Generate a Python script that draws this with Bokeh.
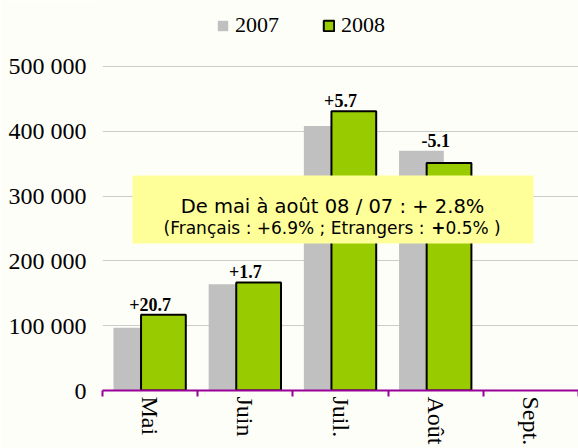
from bokeh.plotting import figure
from bokeh.models import (ColumnDataSource, FixedTicker, Range1d, Legend, LegendItem,
                          BoxAnnotation, Label)
from bokeh.core.properties import value
from bokeh.embed import file_html
from bokeh.resources import INLINE

# ---- data ----
months = ["Mai", "Juin", "Juil.", "Août", "Sept."]
v2007 = [97000, 164000, 408000, 370000]
v2008 = [117000, 166800, 431000, 351000]
changes = ["+20.7", "+1.7", "+5.7", "-5.1"]
y_ticks = [0, 100000, 200000, 300000, 400000, 500000]
y_tick_labels = ["0", "100 000", "200 000", "300 000", "400 000", "500 000"]
series_names = ["2007", "2008"]
note_line1 = "De mai à août 08 / 07 : + 2.8%"
note_line2_a = "(Français : +6.9% ; Etrangers : "
note_line2_b = "+"
note_line2_c = "0.5% )"

SERIF = "Liberation Serif"
SANS = "DejaVu Sans"
PURPLE = "#990099"
BG = "#FEFEF8"

n = len(v2007)
centers = [i + 0.5 for i in range(len(months))]

src07 = ColumnDataSource(dict(x=[centers[i] - 0.15 for i in range(n)], top=v2007))
src08 = ColumnDataSource(dict(x=[centers[i] + 0.14 for i in range(n)], top=v2008))
src_lab = ColumnDataSource(dict(x=centers[:n], y=[max(a, b) for a, b in zip(v2007, v2008)],
                                text=changes))

p = figure(width=578, height=448, output_backend="svg", toolbar_location=None,
           x_range=Range1d(0, len(months)), y_range=Range1d(0, 601800),
           min_border_left=102, min_border_right=0, min_border_top=0, min_border_bottom=58)
p.background_fill_color = BG
p.border_fill_color = BG
p.outline_line_color = None

r07 = p.vbar(x="x", top="top", width=0.47, source=src07, fill_color="#C0C0C0", line_color=None)
r08 = p.vbar(x="x", top="top", width=0.47, source=src08, fill_color="#99CC00",
             line_color="black", line_width=2)

p.text(x="x", y="y", text="text", source=src_lab, text_align="center",
       text_baseline="bottom", y_offset=-4, text_font=value(SERIF),
       text_font_size=value("18px"), text_font_style="bold", text_color="black")

# x axis: ticks at category boundaries, month names at category centres
xa = p.xaxis[0]
xa.ticker = FixedTicker(ticks=centers, minor_ticks=list(range(len(months) + 1)))
xa.major_label_overrides = {c: m for c, m in zip(centers, months)}
xa.major_label_orientation = "vertical"
xa.major_tick_out = 0
xa.major_tick_in = 0
xa.minor_tick_out = 6
xa.minor_tick_in = 0
xa.minor_tick_line_color = PURPLE
xa.minor_tick_line_width = 2
xa.axis_line_color = PURPLE
xa.axis_line_width = 2
xa.major_label_text_font = SERIF
xa.major_label_text_font_size = "24px"
xa.major_label_text_color = "black"
xa.major_label_standoff = 0
p.xgrid.visible = False

# y axis
ya = p.yaxis[0]
ya.ticker = FixedTicker(ticks=y_ticks)
ya.major_label_overrides = {t: l for t, l in zip(y_ticks, y_tick_labels)}
ya.axis_line_color = None
ya.major_tick_out = 0
ya.major_tick_in = 0
ya.minor_tick_out = 0
ya.minor_tick_in = 0
ya.major_label_text_font = SERIF
ya.major_label_text_font_size = "24px"
ya.major_label_text_color = "black"
ya.major_label_standoff = 16
p.ygrid.grid_line_color = "#CCCCCC"
p.ygrid.grid_line_width = 1

# legend
legend = Legend(items=[LegendItem(label=series_names[0], renderers=[r07]),
                       LegendItem(label=series_names[1], renderers=[r08])],
                orientation="horizontal", location=(114, 352),
                glyph_width=13, glyph_height=13, label_standoff=6, spacing=43,
                padding=0, margin=0, border_line_color=None, background_fill_alpha=0,
                label_text_font=SERIF, label_text_font_size="22px", label_text_color="black")
p.add_layout(legend)

# note box
box = BoxAnnotation(left=0.315, right=4.527, bottom=226900, top=331800,
                    fill_color="#FFFF99", fill_alpha=1, line_color=None)
p.add_layout(box)
p.add_layout(Label(x=2.416, y=283950, text=note_line1, text_align="center",
                   text_baseline="alphabetic", text_font=SANS, text_font_size="19.5px",
                   text_color="black"))
x2 = 0.641
fs2 = 17
w_a = 15.746 * fs2
w_b = 0.838 * fs2
p.add_layout(Label(x=x2, y=251500, text=note_line2_a, text_align="left",
                   text_baseline="alphabetic", text_font=SANS, text_font_size=f"{fs2}px",
                   text_color="black"))
p.add_layout(Label(x=x2, y=251500, x_offset=w_a, text=note_line2_b, text_align="left",
                   text_baseline="alphabetic", text_font=SANS, text_font_size=f"{fs2}px",
                   text_font_style="bold", text_color="black"))
p.add_layout(Label(x=x2, y=251500, x_offset=w_a + w_b, text=note_line2_c, text_align="left",
                   text_baseline="alphabetic", text_font=SANS, text_font_size=f"{fs2}px",
                   text_color="black"))

open("out.html", "w").write(file_html(p, INLINE))
